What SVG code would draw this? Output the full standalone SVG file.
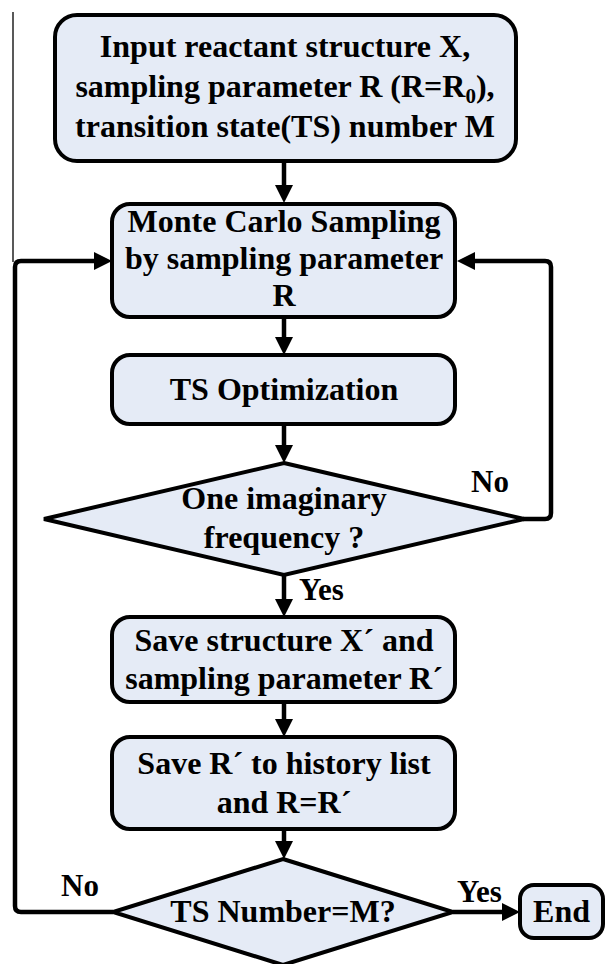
<svg xmlns="http://www.w3.org/2000/svg" width="608" height="964" viewBox="0 0 608 964">
  <style>
    .box { fill: #e5ebf6; stroke: #000; stroke-width: 4; }
    .lbl { font-family: "Liberation Serif", "Times New Roman", serif; font-weight: bold; font-size: 32px; fill: #000; text-anchor: middle; }
    .tag { font-family: "Liberation Serif", "Times New Roman", serif; font-weight: bold; font-size: 31px; fill: #000; }
    .wire { fill: none; stroke: #000; stroke-width: 4.5; stroke-linejoin: round; }
  </style>
  <defs>
    <marker id="arrow" markerUnits="userSpaceOnUse" markerWidth="18" markerHeight="18" refX="8" refY="9" orient="auto">
      <path d="M0,0 L18,9 L0,18 Z" fill="#000"/>
    </marker>
  </defs>
  <rect width="608" height="964" fill="#fff"/>

  <!-- thin left margin rule -->
  <line x1="13" y1="12" x2="13" y2="262" stroke="#222" stroke-width="1.5"/>

  <!-- connectors -->
  <g id="connectors" class="wire">
    <path d="M284,162 V193" marker-end="url(#arrow)"/>
    <path d="M284,317 V345" marker-end="url(#arrow)"/>
    <path d="M284,424 V453" marker-end="url(#arrow)"/>
    <path d="M284,573 V607" marker-end="url(#arrow)"/>
    <path d="M284,702 V727" marker-end="url(#arrow)"/>
    <path d="M284,829 V849" marker-end="url(#arrow)"/>
    <path d="M453,912 H510" marker-end="url(#arrow)"/>
    <path d="M523,519 H545 Q551,519 551,513 V267 Q551,261 545,261 H467" marker-end="url(#arrow)"/>
    <path d="M113,912 H21 Q15,912 15,906 V267 Q15,261 21,261 H102" marker-end="url(#arrow)"/>
  </g>

  <!-- nodes -->
  <g id="input">
    <rect class="box" x="55" y="15" width="461" height="146" rx="22"/>
    <text class="lbl" x="285" y="57">Input reactant structure X,</text>
    <text class="lbl" x="285" y="97">sampling parameter R (R=R<tspan font-size="21" dy="6">0</tspan><tspan dy="-6">),</tspan></text>
    <text class="lbl" x="285" y="137">transition state(TS) number M</text>
  </g>

  <g id="sampling">
    <rect class="box" x="112" y="204" width="343" height="113" rx="18"/>
    <text class="lbl" x="284" y="232">Monte Carlo Sampling</text>
    <text class="lbl" x="284" y="269">by sampling parameter</text>
    <text class="lbl" x="284" y="306">R</text>
  </g>

  <g id="optimization">
    <rect class="box" x="112" y="355" width="343" height="69" rx="18"/>
    <text class="lbl" x="284" y="400">TS Optimization</text>
  </g>

  <g id="check-frequency">
    <polygon class="box" points="284,463 524,519 284,575 44,519"/>
    <text class="lbl" x="284" y="509">One imaginary</text>
    <text class="lbl" x="284" y="548">frequency ?</text>
  </g>

  <g id="save-structure">
    <rect class="box" x="112" y="617" width="343" height="85" rx="18"/>
    <text class="lbl" x="284" y="651">Save structure X´ and</text>
    <text class="lbl" x="284" y="689">sampling parameter R´</text>
  </g>

  <g id="save-history">
    <rect class="box" x="112" y="737" width="343" height="92" rx="18"/>
    <text class="lbl" x="284" y="774">Save R´ to history list</text>
    <text class="lbl" x="284" y="813">and R=R´</text>
  </g>

  <g id="check-count">
    <polygon class="box" points="283,859 453,912 283,965 113,912"/>
    <text class="lbl" x="283" y="922">TS Number=M?</text>
  </g>

  <g id="end">
    <rect class="box" x="520" y="885" width="83" height="53" rx="14"/>
    <text class="lbl" x="561.5" y="922">End</text>
  </g>

  <!-- branch labels -->
  <g id="labels">
    <text class="tag" x="471" y="492">No</text>
    <text class="tag" x="299" y="600">Yes</text>
    <text class="tag" x="61" y="896">No</text>
    <text class="tag" x="457" y="902">Yes</text>
  </g>
</svg>
